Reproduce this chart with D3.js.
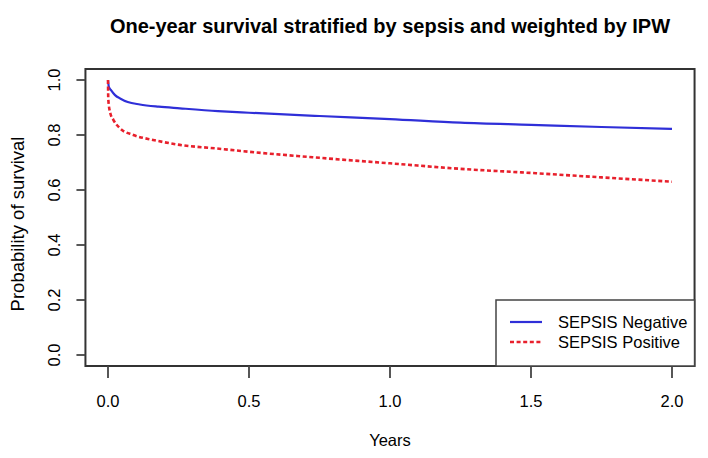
<!DOCTYPE html>
<html>
<head>
<meta charset="utf-8">
<script src="https://cdn.jsdelivr.net/npm/d3@7/dist/d3.min.js"></script>
<style>
  body { margin: 0; background: #fff; }
  text { font-family: "Liberation Sans", Arial, sans-serif; fill: #000; }
</style>
</head>
<body>
<script>
// survival curves (years, probability)
const negYears = [0, 0.003, 0.01, 0.025, 0.043, 0.07, 0.113, 0.18, 0.255, 0.39, 0.5, 0.75, 1.0, 1.25, 1.5, 1.75, 2.0]
const negSurv  = [1.0, 0.975, 0.964, 0.945, 0.933, 0.92, 0.911, 0.903, 0.897, 0.887, 0.881, 0.869, 0.858, 0.845, 0.837, 0.829, 0.822]
const posYears = [0, 0.001, 0.008, 0.019, 0.043, 0.09, 0.16, 0.255, 0.385, 0.5, 0.75, 1.0, 1.25, 1.5, 1.75, 2.0]
const posSurv  = [1.0, 0.93, 0.88, 0.855, 0.824, 0.8, 0.782, 0.764, 0.751, 0.739, 0.717, 0.697, 0.677, 0.662, 0.646, 0.63]

const xTicks = [0, 0.5, 1.0, 1.5, 2.0]
const yTicks = [0, 0.2, 0.4, 0.6, 0.8, 1.0]
const seriesNames = ["SEPSIS Negative", "SEPSIS Positive"]

const width = 708, height = 458

const x = d3.scaleLinear().domain([0, 2]).range([108, 672])
const y = d3.scaleLinear().domain([0, 1]).range([355, 80])

const svg = d3.select("body").append("svg")
    .attr("width", width)
    .attr("height", height)

svg.append("text")
    .attr("x", 390)
    .attr("y", 33)
    .attr("text-anchor", "middle")
    .attr("font-size", 20)
    .attr("font-weight", "bold")
    .text("One-year survival stratified by sepsis and weighted by IPW")

// plot frame, R style 4% padding
const x0 = x(-0.08), x1 = x(2.08), y0 = y(-0.04), y1 = y(1.04)

const toPts = (xs, ys) => xs.map((v, i) => [v, ys[i]])
const line = d3.line()
    .x(d => x(d[0]))
    .y(d => y(d[1]))
    .curve(d3.curveMonotoneX)

svg.append("path")
    .attr("fill", "none")
    .attr("stroke", "#2f2fd8")
    .attr("stroke-width", 2.2)
    .attr("d", line(toPts(negYears, negSurv)))

svg.append("path")
    .attr("fill", "none")
    .attr("stroke", "#e8202c")
    .attr("stroke-width", 2.6)
    .attr("stroke-dasharray", "4,2.6")
    .attr("d", line(toPts(posYears, posSurv)))

svg.append("rect")
    .attr("x", x0).attr("y", y1)
    .attr("width", x1 - x0).attr("height", y0 - y1)
    .attr("fill", "none")
    .attr("stroke", "#333")
    .attr("stroke-width", 2)

// x axis
const xa = svg.append("g")
xa.selectAll("line").data(xTicks).join("line")
    .attr("x1", d => x(d)).attr("x2", d => x(d))
    .attr("y1", y0).attr("y2", y0 + 12)
    .attr("stroke", "#444").attr("stroke-width", 1.8)
xa.selectAll("text").data(xTicks).join("text")
    .attr("x", d => x(d))
    .attr("y", 407)
    .attr("text-anchor", "middle")
    .attr("font-size", 16.5)
    .text(d3.format(".1f"))

// y axis
const ya = svg.append("g")
ya.selectAll("line").data(yTicks).join("line")
    .attr("x1", x0 - 9).attr("x2", x0)
    .attr("y1", d => y(d)).attr("y2", d => y(d))
    .attr("stroke", "#444").attr("stroke-width", 1.8)
ya.selectAll("text").data(yTicks).join("text")
    .attr("transform", d => `translate(60,${y(d)}) rotate(-90)`)
    .attr("text-anchor", "middle")
    .attr("font-size", 16.5)
    .text(d3.format(".1f"))

svg.append("text")
    .attr("x", 390)
    .attr("y", 446)
    .attr("text-anchor", "middle")
    .attr("font-size", 16.5)
    .text("Years")

svg.append("text")
    .attr("transform", "translate(24,224) rotate(-90)")
    .attr("text-anchor", "middle")
    .attr("font-size", 18.5)
    .text("Probability of survival")

// legend
const lg = svg.append("g")
lg.append("rect")
    .attr("x", 496).attr("y", 300)
    .attr("width", x1 - 496).attr("height", y0 - 300)
    .attr("fill", "#fff")
    .attr("stroke", "#444")
    .attr("stroke-width", 1.5)
const legendStyle = [
  { color: "#2f2fd8", dash: null, w: 2.2 },
  { color: "#e8202c", dash: "4,2.6", w: 2.6 }
]
seriesNames.forEach((name, i) => {
  const ly = 322 + i * 20
  lg.append("line")
      .attr("x1", 510).attr("x2", 542)
      .attr("y1", ly).attr("y2", ly)
      .attr("stroke", legendStyle[i].color)
      .attr("stroke-width", legendStyle[i].w)
      .attr("stroke-dasharray", legendStyle[i].dash)
  lg.append("text")
      .attr("x", 558)
      .attr("y", ly + 6)
      .attr("font-size", 16.5)
      .text(name)
})
</script>
</body>
</html>
